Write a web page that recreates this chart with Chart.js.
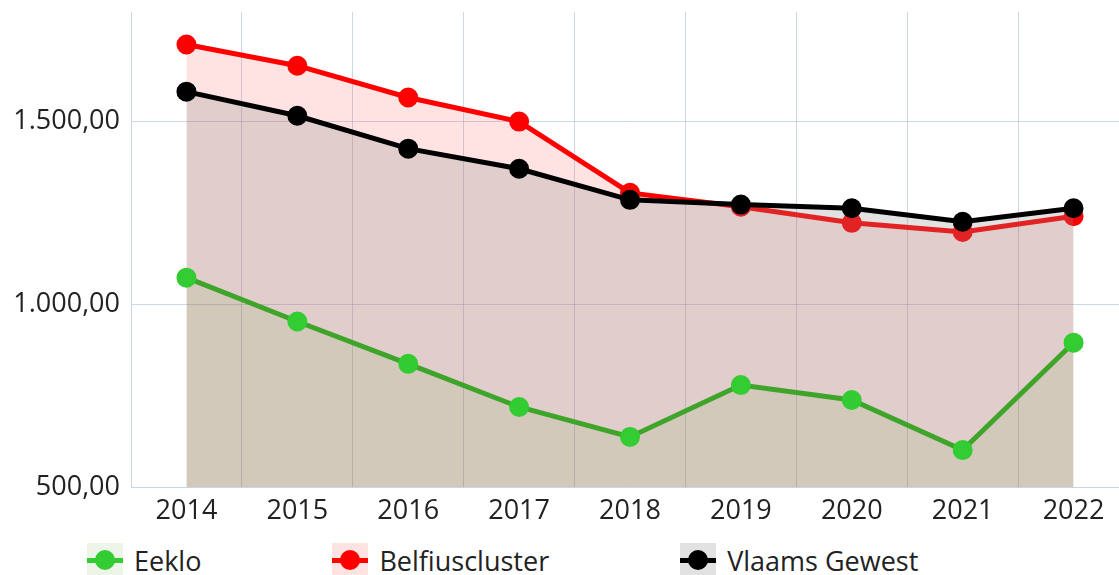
<!DOCTYPE html>
<html lang="nl">
<head>
<meta charset="utf-8">
<title>Eeklo - Belfiuscluster - Vlaams Gewest</title>
<script src="https://cdn.jsdelivr.net/npm/chart.js@4.4.1/dist/chart.umd.min.js"></script>
<style>
    html, body {
        margin: 0;
        padding: 0;
        background: #fff;
        overflow: hidden;
    }
    #wrap {
        position: relative;
        width: 1119px;
        height: 575px;
        overflow: hidden;
        font-family: "Open Sans", "Noto Sans", sans-serif;
    }
    #chartBox {
        position: absolute;
        left: 0;
        top: 0;
        width: 1140px;
        height: 530px;
    }
    #legend {
        position: absolute;
        left: 87px;
        top: 543px;
        display: flex;
        gap: 131px;
        margin: 0;
        padding: 0;
        list-style: none;
    }
    #legend li {
        display: flex;
        align-items: center;
        height: 34px;
        font-size: 27px;
        color: #222;
        white-space: nowrap;
    }
    #legend .marker {
        position: relative;
        width: 36px;
        height: 34px;
        margin-right: 11px;
    }
    #legend .marker .bar {
        position: absolute;
        left: 0;
        right: 0;
        top: 15px;
        height: 5px;
    }
    #legend .marker .dot {
        position: absolute;
        left: 8px;
        top: 7px;
        width: 20px;
        height: 20px;
        border-radius: 50%;
    }
</style>
</head>
<body>
<div id="wrap">
    <div id="chartBox">
        <canvas id="mainChart" width="1140" height="530"></canvas>
    </div>
    <ul id="legend"></ul>
</div>

<script>
// Jaren (x-as)
const years = ['2014', '2015', '2016', '2017', '2018', '2019', '2020', '2021', '2022'];

// Waarden per reeks
const eekloValues = [1073, 953, 837, 719, 637, 779, 738, 601, 895];
const belfiusValues = [1711, 1653, 1566, 1500, 1305, 1267, 1223, 1198, 1241];
const vlaamsValues = [1582, 1516, 1426, 1371, 1286, 1273, 1263, 1226, 1263];

// Y-as bereik en labels
const yMin = 500;
const yMax = 1800;
const yTickValues = [500, 1000, 1500];

const FONT = '"Open Sans", "Noto Sans", sans-serif';

// Getal in Belgisch formaat: 1.500,00
function formatNumber(v) {
    const parts = v.toFixed(2).split('.');
    const intPart = parts[0].replace(/\B(?=(\d{3})+(?!\d))/g, '.');
    return intPart + ',' + parts[1];
}

// HTML legende onder de grafiek
const htmlLegend = {
    id: 'htmlLegend',
    afterUpdate(chart) {
        const list = document.getElementById('legend');
        list.innerHTML = '';
        chart.data.datasets.forEach(ds => {
            const li = document.createElement('li');
            const marker = document.createElement('span');
            marker.className = 'marker';
            marker.style.background = ds.backgroundColor;
            const bar = document.createElement('span');
            bar.className = 'bar';
            bar.style.background = ds.pointBackgroundColor;
            const dot = document.createElement('span');
            dot.className = 'dot';
            dot.style.background = ds.pointBackgroundColor;
            marker.appendChild(bar);
            marker.appendChild(dot);
            const text = document.createElement('span');
            text.textContent = ds.label;
            li.appendChild(marker);
            li.appendChild(text);
            list.appendChild(li);
        });
    }
};

function makeDataset(label, data, lineColor, pointColor, fillColor, order) {
    return {
        label: label,
        data: data,
        borderColor: lineColor,
        backgroundColor: fillColor,
        pointBackgroundColor: pointColor,
        pointBorderColor: pointColor,
        pointRadius: 9,
        pointBorderWidth: 2,
        pointHoverRadius: 9,
        borderWidth: 5,
        tension: 0,
        fill: 'origin',
        order: order
    };
}

const ctx = document.getElementById('mainChart').getContext('2d');

new Chart(ctx, {
    type: 'line',
    data: {
        labels: years,
        datasets: [
            makeDataset('Eeklo', eekloValues, 'rgb(62,165,42)', '#33cc33', 'rgba(100,170,60,0.12)', 0),
            makeDataset('Belfiuscluster', belfiusValues, '#ff0000', '#ff0000', 'rgba(255,0,0,0.11)', 2),
            makeDataset('Vlaams Gewest', vlaamsValues, '#000000', '#000000', 'rgba(140,140,140,0.25)', 1)
        ]
    },
    options: {
        responsive: false,
        animation: false,
        layout: {
            padding: { top: 12, left: 0, right: 0, bottom: 0 }
        },
        plugins: {
            legend: { display: false },
            tooltip: { enabled: false }
        },
        scales: {
            x: {
                offset: true,
                grid: {
                    offset: true,
                    drawTicks: false,
                    color: 'rgba(170,182,205,0.55)'
                },
                border: { color: '#c8d4e8', width: 1 },
                ticks: {
                    padding: 8,
                    color: '#222',
                    font: { family: FONT, size: 27 }
                },
                afterFit(scale) {
                    scale.height = 43;
                    scale.paddingLeft = 0;
                    scale.paddingRight = 0;
                }
            },
            y: {
                min: yMin,
                max: yMax,
                grid: {
                    drawTicks: false,
                    color: 'rgba(170,182,205,0.55)'
                },
                border: { color: '#c8d4e8', width: 1 },
                ticks: {
                    autoSkip: false,
                    padding: 11,
                    color: '#222',
                    font: { family: FONT, size: 27 },
                    callback: value => formatNumber(value)
                },
                afterBuildTicks(scale) {
                    // vaste labels op 500, 1000 en 1500
                    scale.ticks = yTickValues.map(v => ({ value: v }));
                },
                afterFit(scale) {
                    scale.width = 131;
                    scale.paddingTop = 0;
                    scale.paddingBottom = 0;
                }
            }
        }
    },
    plugins: [htmlLegend]
});
</script>
</body>
</html>
